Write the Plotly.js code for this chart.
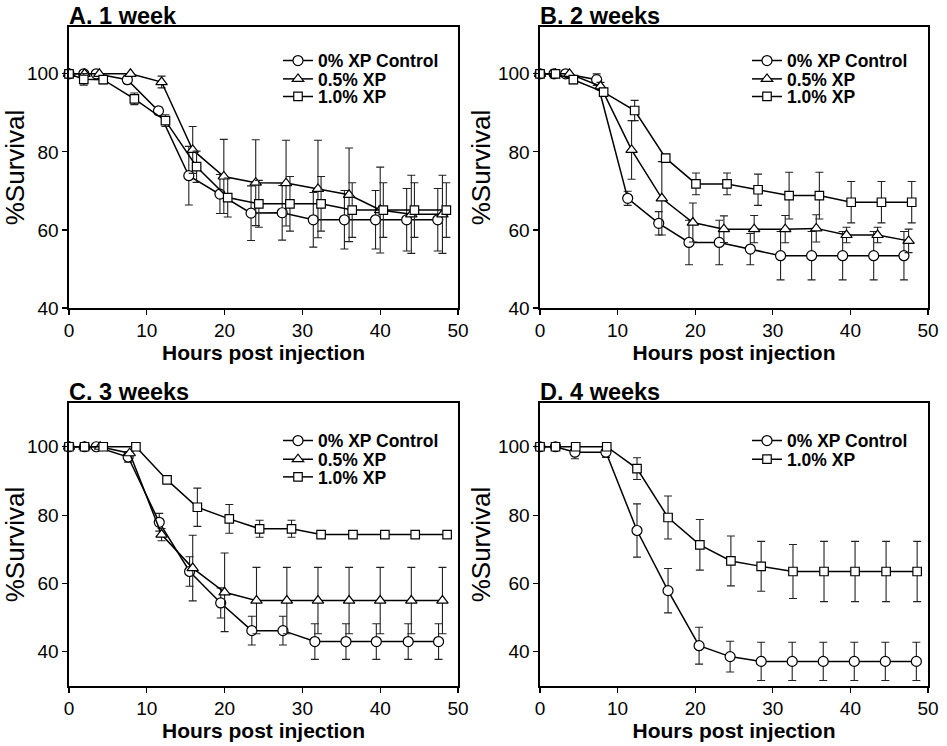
<!DOCTYPE html>
<html>
<head>
<meta charset="utf-8">
<script src="https://cdn.plot.ly/plotly-3.0.1.min.js"></script>
<style>html,body{margin:0;padding:0;background:#fff;}#chart{width:947px;height:746px;}</style>
</head>
<body>
<div id="chart"></div>
<script>
// ---------- data (hours post injection, % survival, error) ----------
const seriesNames = ["0% XP Control", "0.5% XP", "1.0% XP"];
const panelTitles = ["A. 1 week", "B. 2 weeks", "C. 3 weeks", "D. 4 weeks"];

// Panel A: 1 week
const hrsA_ctrl = [0, 1.9, 3.5, 7.5, 11.5, 15.4, 19.4, 23.4, 27.4, 31.4, 35.4, 39.4, 43.4, 47.4];
const survA_ctrl = [100, 100, 100, 98.5, 90.5, 73.9, 69.2, 64.3, 64.4, 62.6, 62.6, 62.6, 62.6, 62.6];
const errA_ctrl = [0, 0, 0, 1, 1, 7.5, 5, 7, 7, 7, 7.5, 7.5, 8, 8];
const hrsA_05 = [0, 2, 3.9, 7.9, 11.9, 15.9, 19.9, 24, 27.9, 32, 36, 40, 44, 48];
const survA_05 = [100, 100, 100, 100, 97.9, 80.5, 73.7, 72.1, 72.0, 70.5, 69.0, 65.1, 64.0, 64.0];
const errA_05 = [0, 0, 0, 0, 1.5, 6, 9.5, 11, 11, 12.5, 12, 11, 10, 10];
const hrsA_10 = [0, 1.9, 4.4, 8.4, 12.4, 16.4, 20.4, 24.4, 28.4, 32.4, 36.4, 40.4, 44.4, 48.5];
const survA_10 = [100, 98.6, 98.5, 93.6, 88.0, 76.2, 68.3, 66.7, 66.7, 66.7, 65.1, 65.1, 65.1, 65.1];
const errA_10 = [0, 1.5, 1, 1.5, 1.5, 4, 5, 6, 7, 7, 7, 7, 7, 7];

// Panel B: 2 weeks
const hrsB_ctrl = [0, 1.8, 3.3, 7.3, 11.3, 15.3, 19.2, 23.1, 27.1, 31, 35, 39, 43, 46.9];
const survB_ctrl = [100, 100, 100, 98.5, 68.1, 61.7, 56.8, 56.8, 55.1, 53.4, 53.4, 53.4, 53.4, 53.4];
const errB_ctrl = [0, 0, 0, 1.5, 1.8, 3, 5.7, 5.7, 4, 6.2, 6.2, 6.2, 6.2, 6.2];
const hrsB_05 = [0, 2, 3.8, 7.8, 11.8, 15.7, 19.7, 23.7, 27.6, 31.6, 35.6, 39.5, 43.5, 47.5];
const survB_05 = [100, 100, 100, 96.8, 80.5, 68.1, 61.9, 60.2, 60.2, 60.2, 60.4, 58.7, 58.7, 57.2];
const errB_05 = [0, 0, 0, 1, 7.5, 9.4, 5, 3.4, 3.5, 3.5, 3.5, 2, 2, 3];
const hrsB_10 = [0, 2, 4.3, 8.2, 12.2, 16.2, 20.1, 24.1, 28.1, 32.1, 36, 40.1, 44, 47.9];
const survB_10 = [100, 100, 98.5, 95.3, 90.6, 78.4, 71.8, 71.8, 70.3, 68.8, 68.8, 67.1, 67.1, 67.1];
const errB_10 = [0, 0, 1, 1, 2.6, 1, 2.8, 2.8, 4, 6, 6, 5.3, 5.3, 5.3];

// Panel C: 3 weeks
const hrsC_ctrl = [0, 2, 3.5, 7.6, 11.6, 15.5, 19.5, 23.5, 27.5, 31.6, 35.6, 39.5, 43.6, 47.5];
const survC_ctrl = [100, 100, 100, 97, 77.9, 63.5, 54.3, 46.2, 46.2, 43, 43, 43, 43, 43];
const errC_ctrl = [0, 0, 0, 1.5, 2.6, 4.3, 4.4, 4.2, 4.2, 5.2, 5.2, 5.2, 5.2, 5.2];
const hrsC_05 = [0, 2, 4, 7.8, 11.9, 15.9, 20, 24.1, 28, 32, 36, 40, 44, 48];
const survC_05 = [100, 100, 100, 98.1, 74.3, 64.5, 57.4, 55, 55, 55, 55, 55, 55, 55];
const errC_05 = [0, 0, 0, 0.5, 1.8, 9.6, 11.5, 9.7, 9.7, 9.7, 9.7, 9.7, 9.7, 9.7];
const hrsC_10 = [0, 2, 4.4, 8.6, 12.6, 16.5, 20.6, 24.5, 28.6, 32.4, 36.5, 40.6, 44.5, 48.6];
const survC_10 = [100, 100, 100, 100, 90.3, 82.3, 78.9, 76, 76, 74.3, 74.3, 74.3, 74.3, 74.3];
const errC_10 = [0, 0, 0, 0, 0.5, 5.6, 4.2, 2.5, 2.5, 0.8, 0.8, 0.8, 0.8, 0.8];

// Panel D: 4 weeks
const hrsD_ctrl = [0, 2, 4.5, 8.5, 12.5, 16.5, 20.5, 24.5, 28.5, 32.5, 36.5, 40.5, 44.5, 48.5];
const survD_ctrl = [100, 100, 98.4, 98.4, 75.5, 57.9, 41.8, 38.6, 37.2, 37.2, 37.2, 37.2, 37.2, 37.2];
const errD_ctrl = [0, 0, 1.9, 1.5, 7.8, 6.5, 5.4, 4.5, 5.6, 5.6, 5.6, 5.6, 5.6, 5.6];
const hrsD_10 = [0, 2, 4.6, 8.6, 12.5, 16.5, 20.6, 24.6, 28.5, 32.6, 36.6, 40.6, 44.6, 48.6];
const survD_10 = [100, 100, 100, 100, 93.6, 79.3, 71.3, 66.6, 65, 63.5, 63.5, 63.5, 63.5, 63.5];
const errD_10 = [0, 0, 0, 0, 3.2, 6.3, 7.4, 7.3, 7.3, 7.9, 8.8, 8.8, 8.8, 8.8];

// ---------- layout helpers (pixel -> paper) ----------
const W = 947, H = 746;
const px = v => v / W;
const py = v => 1 - v / H;
const FONT = "Arial, 'Liberation Sans', sans-serif";

const symbols = {"0% XP Control": "circle", "0.5% XP": "triangle-up", "1.0% XP": "square"};
const msize = {"0% XP Control": 10, "0.5% XP": 10, "1.0% XP": 8.5};

const traces = [];
let legendCount = 0;
const legendDefs = [];
function addSeries(name, xs, ys, es, axisIdx, legX, legY) {
  legendCount++;
  const legKey = legendCount === 1 ? "legend" : "legend" + legendCount;
  legendDefs.push({key: legKey, x: legX, y: legY});
  traces.push({
    type: "scatter", mode: "lines+markers", name: name,
    x: xs, y: ys,
    xaxis: axisIdx === 1 ? "x" : "x" + axisIdx,
    yaxis: axisIdx === 1 ? "y" : "y" + axisIdx,
    legend: legKey,
    showlegend: true,
    cliponaxis: false,
    line: {color: "#000", width: 1.5},
    marker: {symbol: symbols[name], size: msize[name], color: "#fff", line: {color: "#000", width: 1.2}},
    error_y: {type: "data", array: es, visible: true, color: "#222", thickness: 1.1, width: 4}
  });
}

// legend row positions (pixels)
const legLeftL = 278, legLeftR = 747;
const rowsTop = [60.7, 79, 96.5], rowsBot = [440.7, 459.3, 477];

addSeries(seriesNames[0], hrsA_ctrl, survA_ctrl, errA_ctrl, 1, legLeftL, rowsTop[0]);
addSeries(seriesNames[1], hrsA_05, survA_05, errA_05, 1, legLeftL, rowsTop[1]);
addSeries(seriesNames[2], hrsA_10, survA_10, errA_10, 1, legLeftL, rowsTop[2]);
addSeries(seriesNames[0], hrsB_ctrl, survB_ctrl, errB_ctrl, 2, legLeftR, rowsTop[0]);
addSeries(seriesNames[1], hrsB_05, survB_05, errB_05, 2, legLeftR, rowsTop[1]);
addSeries(seriesNames[2], hrsB_10, survB_10, errB_10, 2, legLeftR, rowsTop[2]);
addSeries(seriesNames[0], hrsC_ctrl, survC_ctrl, errC_ctrl, 3, legLeftL, rowsBot[0]);
addSeries(seriesNames[1], hrsC_05, survC_05, errC_05, 3, legLeftL, rowsBot[1]);
addSeries(seriesNames[2], hrsC_10, survC_10, errC_10, 3, legLeftL, rowsBot[2]);
addSeries(seriesNames[0], hrsD_ctrl, survD_ctrl, errD_ctrl, 4, legLeftR, rowsBot[0]);
addSeries(seriesNames[2], hrsD_10, survD_10, errD_10, 4, legLeftR, rowsBot[1]);

const panels = [
  {x0: 69, x1: 458, y0: 27, y1: 308, yr: [40, 112]},
  {x0: 540, x1: 928, y0: 27, y1: 308, yr: [40, 112]},
  {x0: 69, x1: 458, y0: 403, y1: 686, yr: [30, 112.8]},
  {x0: 540, x1: 928, y0: 403, y1: 686, yr: [30, 112.8]}
];

const layout = {
  width: W, height: H,
  margin: {l: 0, r: 0, t: 0, b: 0},
  paper_bgcolor: "#fff", plot_bgcolor: "#fff",
  font: {family: FONT, color: "#000"},
  showlegend: true,
  annotations: []
};

panels.forEach((p, i) => {
  const n = i + 1;
  const xk = n === 1 ? "xaxis" : "xaxis" + n;
  const yk = n === 1 ? "yaxis" : "yaxis" + n;
  layout[xk] = {
    domain: [px(p.x0), px(p.x1)], anchor: n === 1 ? "y" : "y" + n,
    range: [0, 50], tick0: 0, dtick: 10, ticks: "outside", ticklen: 5, tickwidth: 1.2, tickcolor: "#000",
    showline: true, linewidth: 1.6, linecolor: "#000", mirror: true,
    showgrid: false, zeroline: false, fixedrange: true,
    tickfont: {family: FONT, size: 19, color: "#000"},
    title: {text: "Hours post injection", font: {family: FONT, size: 21, weight: "bold", color: "#000"}, standoff: 2}
  };
  layout[yk] = {
    domain: [py(p.y1), py(p.y0)], anchor: n === 1 ? "x" : "x" + n,
    range: p.yr, tick0: 0, dtick: 20, ticks: "outside", ticklen: 5, tickwidth: 1.2, tickcolor: "#000",
    showline: true, linewidth: 1.6, linecolor: "#000", mirror: true,
    showgrid: false, zeroline: false, fixedrange: true,
    tickfont: {family: FONT, size: 19, color: "#000"},
    title: {text: "%Survival", font: {family: FONT, size: 26, color: "#000"}, standoff: 0}
  };
  layout.annotations.push({
    xref: "paper", yref: "paper", x: px(p.x0 - 2), y: py(p.y0 - 11), xanchor: "left", yanchor: "middle",
    text: "<b>" + panelTitles[i] + "</b>", showarrow: false,
    font: {family: FONT, size: 23.5, color: "#000"}
  });
});

legendDefs.forEach(d => {
  layout[d.key] = {
    visible: true,
    x: px(d.x), y: py(d.y), xanchor: "left", yanchor: "middle",
    bgcolor: "rgba(0,0,0,0)", borderwidth: 0,
    font: {family: FONT, size: 17.5, weight: "bold", color: "#000"},
    tracegroupgap: 0
  };
});

Plotly.newPlot("chart", traces, layout, {displayModeBar: false, staticPlot: true});
</script>
</body>
</html>
